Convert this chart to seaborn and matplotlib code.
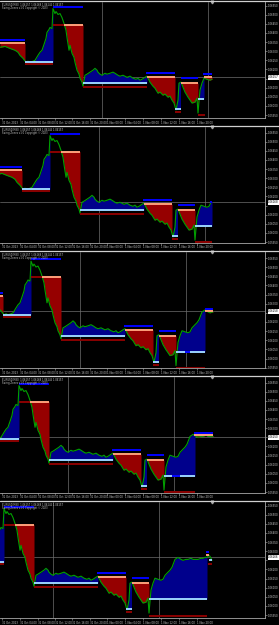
import numpy as np
import pandas as pd
import matplotlib
matplotlib.use("Agg")
import matplotlib.pyplot as plt
import matplotlib.transforms as mtransforms
from matplotlib.lines import Line2D
import seaborn as sns

# ---------------- data ----------------
bar_idx = [0, 5, 10, 15, 18, 20, 23, 26, 28, 30, 33, 35, 38, 40, 42, 44, 46, 47, 49, 50,
           52, 53, 55, 56, 58, 60, 62, 63, 64, 66, 67, 69, 70, 72, 74, 75, 77, 79, 80, 82,
           83, 85, 87, 90, 93, 95, 97, 98, 100, 102, 105, 107, 110, 113, 115, 118, 120, 123, 127, 130,
           133, 136, 138, 140, 142, 145, 147, 150, 153, 155, 158, 160, 163, 165, 168, 170, 172, 174, 176, 178,
           179, 181, 183, 185, 188, 190, 192, 195, 197, 198, 200, 202, 204, 207, 210, 212, 214, 217, 219, 221,
           224, 227, 230, 232, 235, 237, 240, 242, 245, 247, 250, 252, 254, 256, 258, 259, 261]
close = [1.06321, 1.06326, 1.06315, 1.06305, 1.06294, 1.06277, 1.06261, 1.06239, 1.06245, 1.06239,
         1.06245, 1.06250, 1.06277, 1.06294, 1.06305, 1.06337, 1.06370, 1.06403, 1.06419, 1.06430,
         1.06424, 1.06533, 1.06506, 1.06517, 1.06501, 1.06506, 1.06484, 1.06468, 1.06452, 1.06414,
         1.06375, 1.06305, 1.06332, 1.06288, 1.06266, 1.06239, 1.06196, 1.06174, 1.06152, 1.06130,
         1.06108, 1.06168, 1.06174, 1.06185, 1.06196, 1.06206, 1.06196, 1.06185, 1.06174, 1.06168,
         1.06179, 1.06174, 1.06179, 1.06185, 1.06179, 1.06168, 1.06163, 1.06168, 1.06157, 1.06163,
         1.06152, 1.06146, 1.06152, 1.06141, 1.06146, 1.06157, 1.06163, 1.06130, 1.06108, 1.06097,
         1.06070, 1.06076, 1.06059, 1.06065, 1.06048, 1.06054, 1.06032, 1.06016, 1.05978, 1.06032,
         1.06125, 1.06130, 1.06103, 1.06076, 1.06048, 1.06032, 1.06016, 1.06021, 1.06043, 1.05961,
         1.06087, 1.06125, 1.06152, 1.06146, 1.06141, 1.06146, 1.06168, 1.06185, 1.06196, 1.06212,
         1.06255, 1.06266, 1.06255, 1.06250, 1.06255, 1.06255, 1.06261, 1.06255, 1.06255, 1.06255,
         1.06261, 1.06261, 1.06266, 1.06266, 1.06277, 1.06272, 1.06250]

panel_offset = [0, 3, 22, 34, 49]
panel_last = [212, 215, 235, 247, 261]
panel_ytop = [1.06572, 1.06583, 1.06586, 1.06583, 1.06572]
y_span = 0.00638
panel_price = [1.06157, 1.06168, 1.06258, 1.06250, 1.06266]
panel_price_text = ["1.06157", "1.06168", "1.06258", "1.06250", "1.06266"]

price_ticks = [1.0595, 1.0600, 1.0605, 1.0610, 1.0615, 1.0620, 1.0625,
               1.0630, 1.0635, 1.0640, 1.0645, 1.0650, 1.0655]
price_tick_labels = ["1.05950", "1.06000", "1.06050", "1.06100", "1.06150", "1.06200", "1.06250",
                     "1.06300", "1.06350", "1.06400", "1.06450", "1.06500", "1.06550"]

time_slots = [2, 20, 38, 55, 72, 90, 107, 125, 143, 161, 179, 197]
time_labels = ["31 Oct 2023", "31 Oct 04:00", "31 Oct 08:00", "31 Oct 12:00", "31 Oct 16:00",
               "31 Oct 20:00", "1 Nov 00:00", "1 Nov 04:00", "1 Nov 08:00", "1 Nov 12:00",
               "1 Nov 16:00", "1 Nov 20:00"]
day_lines = [102, 208]

header_line1 = "EURUSD,M30  1.06157 1.06168 1.06146 1.06157"
header_line2 = "Swing Zones v1.0 Copyright \u00a9 2023"

# zones shared by every panel: (kind, start, end, level)
common_fills = [("dn", 0, 25, 1.06343), ("up", 25, 53, 1.06239), ("dn", 64, 83, 1.06446),
                ("up", 83, 147, 1.06125), ("dn", 147, 175, 1.06157), ("up", 175, 181, 1.05983),
                ("dn", 181, 198, 1.06125)]
common_lines = [("blue", 0, 25, 1.06359), ("salmon", 0, 25, 1.06343),
                ("lightblue", 25, 53, 1.06239), ("darkred", 25, 53, 1.06228),
                ("blue", 53, 83, 1.06544), ("darkred", 53, 64, 1.06446), ("salmon", 64, 83, 1.06446),
                ("lightblue", 83, 147, 1.06125), ("darkred", 83, 147, 1.06103),
                ("blue", 146, 175, 1.06179), ("salmon", 147, 175, 1.06157),
                ("lightblue", 175, 181, 1.05983), ("darkred", 175, 181, 1.05967),
                ("blue", 181, 198, 1.06152), ("salmon", 181, 198, 1.06125)]
tail_fills = [
    [("up", 198, 204, 1.06037), ("dn", 204, 212, 1.06157)],
    [("up", 198, 215, 1.06037)],
    [("up", 198, 227, 1.06037), ("dn", 227, 235, 1.06258)],
    [("up", 198, 229, 1.06037), ("dn", 229, 247, 1.06261)],
    [("up", 198, 256, 1.06037)],
]
tail_lines = [
    [("lightblue", 198, 204, 1.06037), ("darkred", 198, 205, 1.05950),
     ("blue", 203, 212, 1.06174), ("salmon", 204, 212, 1.06157)],
    [("lightblue", 198, 215, 1.06037), ("darkred", 198, 215, 1.05950),
     ("blue", 213, 215, 1.06168)],
    [("lightblue", 198, 227, 1.06037), ("blue", 207, 212, 1.06037), ("darkred", 198, 227, 1.05950),
     ("blue", 227, 235, 1.06269), ("salmon", 227, 235, 1.06258)],
    [("lightblue", 198, 229, 1.06037), ("blue", 206, 214, 1.06037), ("darkred", 198, 229, 1.05950),
     ("blue", 228, 247, 1.06272), ("salmon", 228, 247, 1.06261)],
    [("lightblue", 198, 256, 1.06037), ("darkred", 198, 256, 1.05945),
     ("blue", 255, 258, 1.06294), ("salmon", 255, 258, 1.06277),
     ("lightblue", 258, 261, 1.06250), ("darkred", 257, 261, 1.06228)],
]

# ---------------- style ----------------
line_colors = {"blue": "#0000FF", "salmon": "#FFA07A", "lightblue": "#9BD4FF", "darkred": "#8B0000"}
fill_colors = {"dn": "#960000", "up": "#00008C"}
price_color = "#00A000"
grid_color = "#6E6E6E"
axis_color = "#A8A8A8"
text_color = "#C8C8C8"
fs = 1.9

sns.set_theme(style="dark", rc={"axes.facecolor": "black", "figure.facecolor": "black"})
plt.rcParams["font.family"] = ["DejaVu Sans"]

W, H = 279, 625
fig = plt.figure(figsize=(W / 100, H / 100), dpi=100)
fig.patch.set_facecolor("black")

df = pd.DataFrame({"bar": bar_idx, "close": close})
xs = np.array(bar_idx, dtype=float)
ys = np.array(close, dtype=float)

plot_w = 265
for k in range(5):
    off = panel_offset[k]
    last = panel_last[k]
    top_px = 125 * k + 1.5
    bot_px = 125 * k + 118
    ax = fig.add_axes([0, 1 - bot_px / H, plot_w / W, (bot_px - top_px) / H])
    ax.set_facecolor("black")
    ax.set_xlim(off, off + plot_w)
    ax.set_ylim(panel_ytop[k] - y_span, panel_ytop[k])

    # fills
    for kind, a, b, level in common_fills + tail_fills[k]:
        b = min(b, last)
        if b <= a:
            continue
        m = (xs > a) & (xs < b)
        fx = np.concatenate([[a], xs[m], [b]])
        fy = np.concatenate([[np.interp(a, xs, ys)], ys[m], [np.interp(b, xs, ys)]])
        if kind == "dn":
            ax.fill_between(fx, level, fy, where=fy <= level, interpolate=True,
                            color=fill_colors[kind], lw=0, zorder=2)
        else:
            ax.fill_between(fx, level, fy, where=fy >= level, interpolate=True,
                            color=fill_colors[kind], lw=0, zorder=2)

    # grid / crosshair
    for d in day_lines:
        ax.axvline(d, color=grid_color, lw=0.5, zorder=1)
    ax.axhline(panel_price[k], color=grid_color, lw=0.5, zorder=1)

    # price line
    sub = df[df["bar"] <= last]
    sns.lineplot(data=sub, x="bar", y="close", ax=ax, color=price_color, linewidth=0.8,
                 estimator=None, sort=False, legend=False, zorder=4)

    # level lines
    for ckey, a, b, level in common_lines + tail_lines[k]:
        b = min(b, last)
        ax.plot([a, b], [level, level], color=line_colors[ckey], lw=1.4,
                solid_capstyle="butt", zorder=5)

    # axes styling
    for s in ["top", "left"]:
        ax.spines[s].set_visible(False)
    for s in ["right", "bottom"]:
        ax.spines[s].set_color(axis_color)
        ax.spines[s].set_linewidth(0.6)
    ax.grid(False)
    ax.set_xlabel("")
    ax.set_ylabel("")

    ax.yaxis.tick_right()
    ax.set_yticks(price_ticks)
    shown = [lab if abs(t - panel_price[k]) > 0.00028 else "" for t, lab in zip(price_ticks, price_tick_labels)]
    ax.set_yticklabels(shown)
    ax.tick_params(axis="y", colors=axis_color, labelcolor=text_color, labelsize=fs,
                   length=1.2, width=0.4, pad=0.6, right=True, left=False)

    ax.set_xticks([off + s for s in time_slots])
    ax.set_xticklabels(time_labels)
    ax.tick_params(axis="x", colors=axis_color, labelcolor=text_color, labelsize=fs,
                   length=1.2, width=0.4, pad=0.6, bottom=True)
    for lbl in ax.get_xticklabels():
        lbl.set_ha("left")

    # current price tag
    trans = mtransforms.blended_transform_factory(ax.transAxes, ax.transData)
    ax.text(1.012, panel_price[k], panel_price_text[k], transform=trans, fontsize=fs,
            color="black", va="center", ha="left",
            bbox=dict(boxstyle="square,pad=0.25", fc="white", ec="none"), clip_on=False, zorder=10)

    # header texts
    ax.text(0.008, 0.99, header_line1, transform=ax.transAxes, fontsize=1.8, color=text_color,
            va="top", ha="left", zorder=10)
    ax.text(0.008, 0.962, header_line2, transform=ax.transAxes, fontsize=1.8, color=text_color,
            va="top", ha="left", zorder=10)

    # chart shift marker
    ax.plot([off + 212], [panel_ytop[k]], marker="v", ms=2, color=axis_color, clip_on=False, zorder=10)

    # panel separator line on top
    yline = 1 - (125 * k + 0.6) / H
    fig.add_artist(Line2D([0, 1], [yline, yline], color="#D0D0D0", lw=0.9))

fig.savefig("out.png", dpi=100, facecolor="black")
